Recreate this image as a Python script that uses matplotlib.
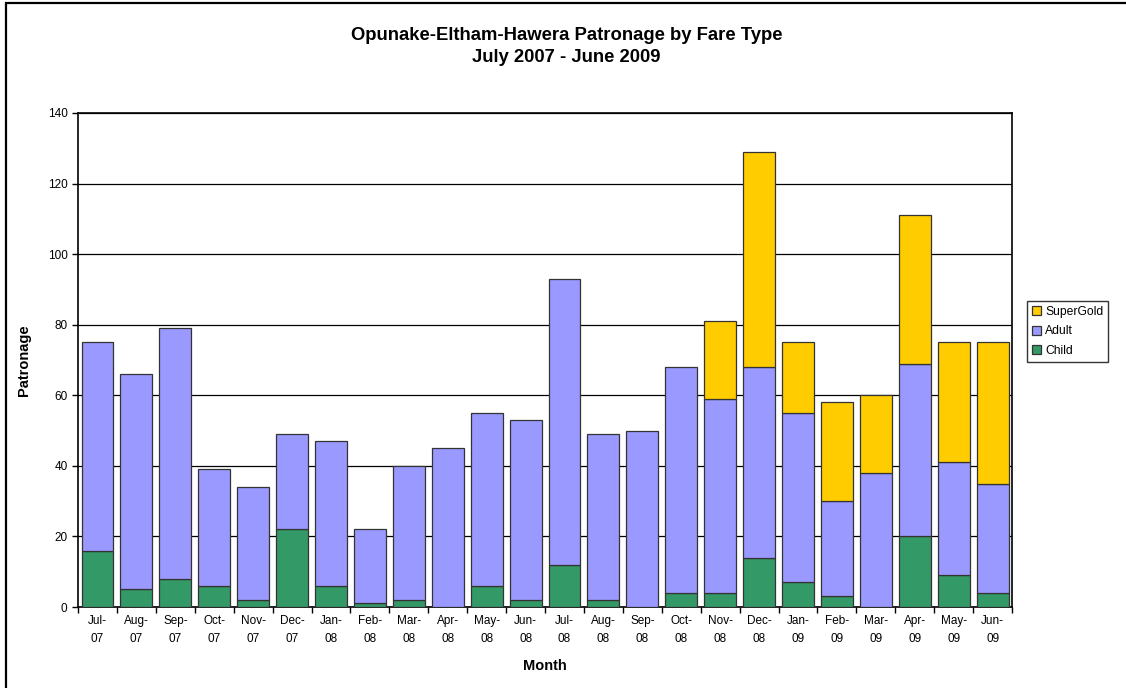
import numpy as np
import matplotlib.pyplot as plt
from matplotlib.patches import Rectangle

plt.rcParams['font.family'] = ['Liberation Sans', 'DejaVu Sans']

# -------------------------------------
# Data
# -------------------------------------
months = ["Jul-\n07", "Aug-\n07", "Sep-\n07", "Oct-\n07", "Nov-\n07", "Dec-\n07",
          "Jan-\n08", "Feb-\n08", "Mar-\n08", "Apr-\n08", "May-\n08", "Jun-\n08",
          "Jul-\n08", "Aug-\n08", "Sep-\n08", "Oct-\n08", "Nov-\n08", "Dec-\n08",
          "Jan-\n09", "Feb-\n09", "Mar-\n09", "Apr-\n09", "May-\n09", "Jun-\n09"]
child = [16, 5, 8, 6, 2, 22, 6, 1, 2, 0, 6, 2, 12, 2, 0, 4, 4, 14, 7, 3, 0, 20, 9, 4]
adult = [59, 61, 71, 33, 32, 27, 41, 21, 38, 45, 49, 51, 81, 47, 50, 64, 55, 54, 48, 27, 38, 49, 32, 31]
supergold = [0, 0, 0, 0, 0, 0, 0, 0, 0, 0, 0, 0, 0, 0, 0, 0, 22, 61, 20, 28, 22, 42, 34, 40]

child = np.array(child)
adult = np.array(adult)
supergold = np.array(supergold)
x = np.arange(len(months))

fig = plt.figure(figsize=(11.26, 6.88), dpi=100)
ax = fig.add_axes([0.0693, 0.1177, 0.8295, 0.7181])

w = 0.82
ax.bar(x, child, w, color="#339966", edgecolor="#333333", linewidth=0.9, label="Child", zorder=3)
ax.bar(x, adult, w, bottom=child, color="#9999FF", edgecolor="#333333", linewidth=0.9, label="Adult", zorder=3)
sg_mask = supergold > 0
ax.bar(x[sg_mask], supergold[sg_mask], w, bottom=(child + adult)[sg_mask], color="#FFCC00",
       edgecolor="#333333", linewidth=0.9, label="SuperGold", zorder=3)

ax.set_xlim(-0.5, len(months) - 0.5)
ax.set_ylim(0, 140)
ax.set_yticks(range(0, 141, 20))
ax.yaxis.grid(True, color="black", linewidth=0.9, zorder=0)
ax.set_axisbelow(True)

ax.set_xticks(x)
ax.set_xticklabels(months, fontsize=8.5, linespacing=1.6)
ax.set_xticks(np.arange(-0.5, len(months)), minor=True)
ax.tick_params(axis="x", which="major", length=0, pad=6)
ax.tick_params(axis="x", which="minor", length=4, direction="out", width=1)
ax.tick_params(axis="y", length=4, direction="out", width=1, labelsize=8.5)

for s in ax.spines.values():
    s.set_linewidth(1.2)
    s.set_color("black")

ax.set_xlabel("Month", fontsize=10.5, fontweight="bold", labelpad=10)
ax.set_ylabel("Patronage", fontsize=10.5, fontweight="bold", labelpad=12)

fig.text(0.503, 0.949, "Opunake-Eltham-Hawera Patronage by Fare Type", ha="center", va="center",
         fontsize=13.3, fontweight="bold")
fig.text(0.503, 0.917, "July 2007 - June 2009", ha="center", va="center",
         fontsize=13.3, fontweight="bold")

handles, labels = ax.get_legend_handles_labels()
leg = fig.legend(handles[::-1], labels[::-1], loc="upper left", bbox_to_anchor=(0.912, 0.5625),
                 fontsize=8.7, frameon=True, fancybox=False, edgecolor="black",
                 handlelength=0.8, handleheight=0.8, handletextpad=0.3,
                 labelspacing=0.62, borderpad=0.4, borderaxespad=0)
leg.get_frame().set_linewidth(1.0)

# outer chart-area frame (runs off the right and bottom edges as in the original)
fig.patches.append(Rectangle((0.0053, -0.01), 1.0, 1.0056, transform=fig.transFigure,
                             fill=False, edgecolor="black", linewidth=1.6))

fig.savefig("out.png", dpi=100)
